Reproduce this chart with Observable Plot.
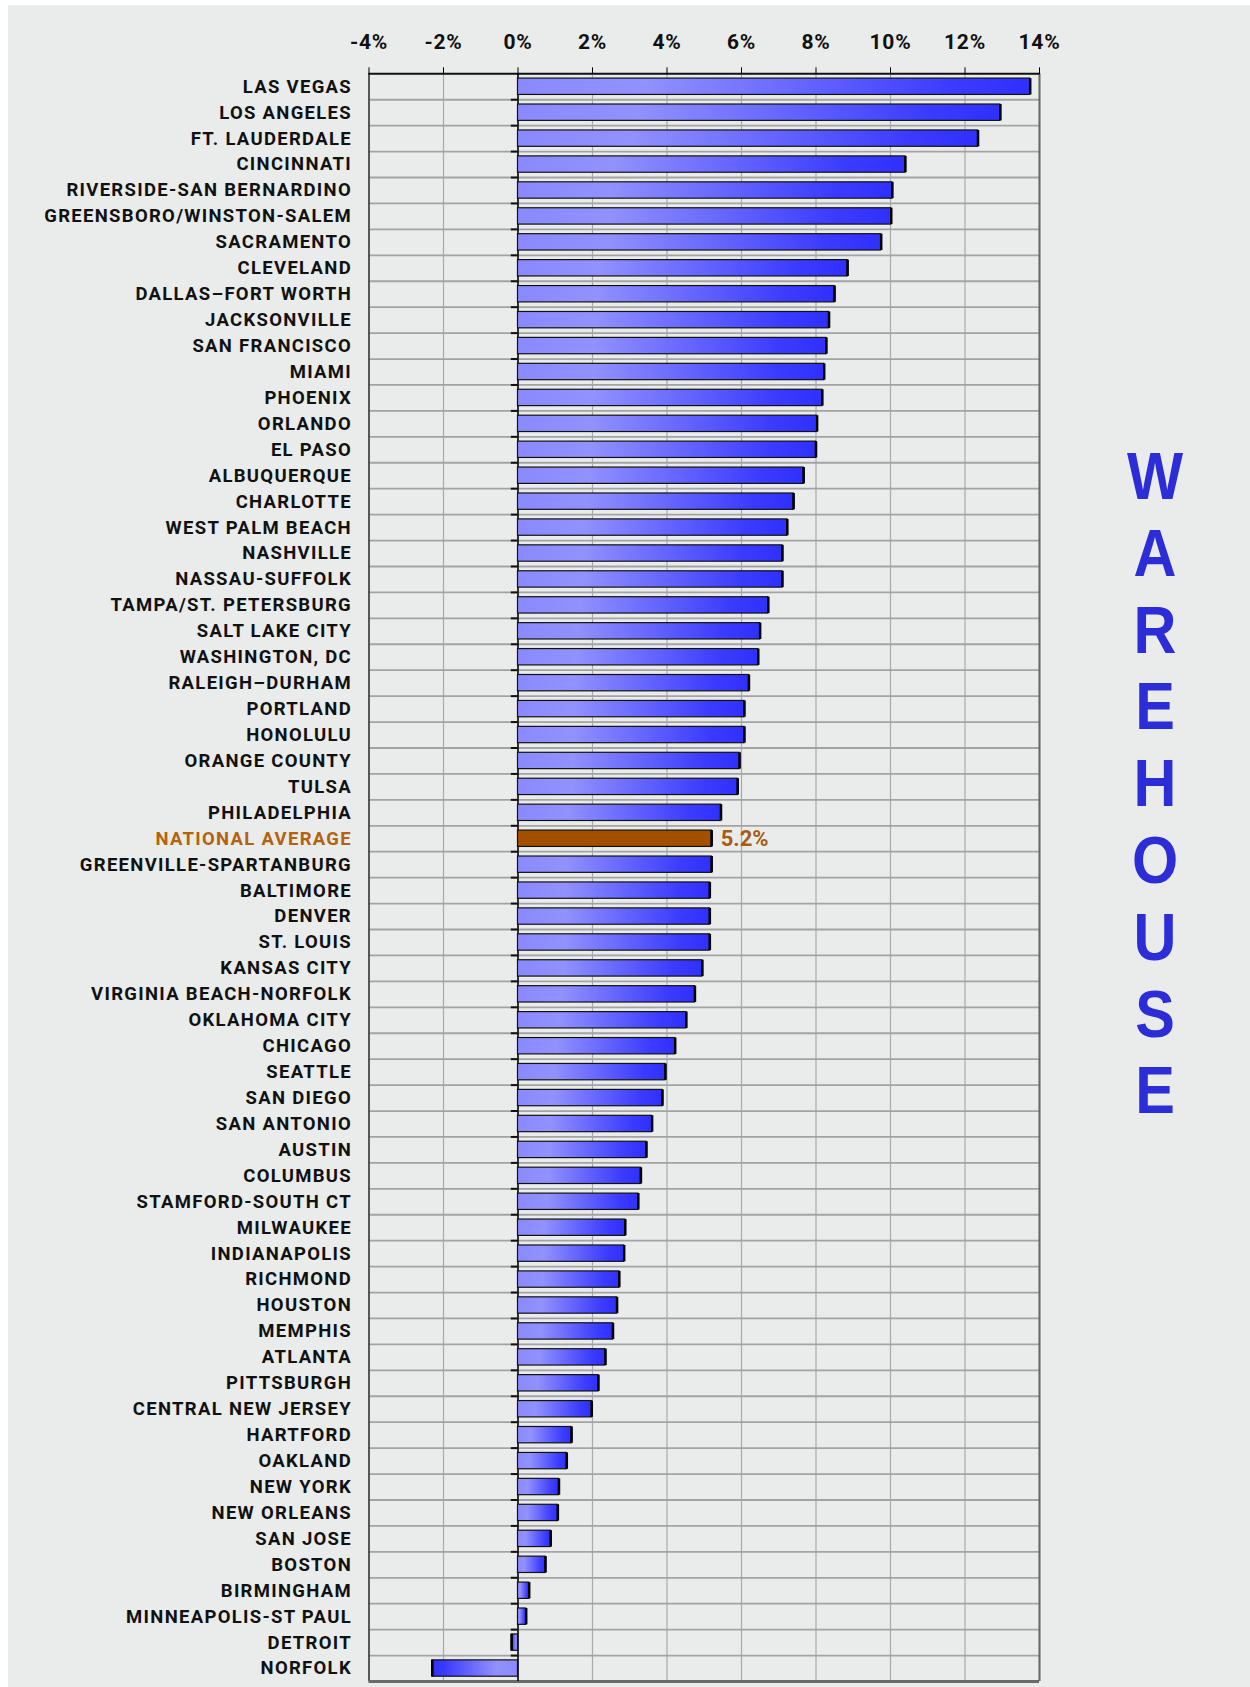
<!DOCTYPE html>
<html><head><meta charset="utf-8">
<script src="https://cdn.jsdelivr.net/npm/d3@7"></script>
<script src="https://cdn.jsdelivr.net/npm/@observablehq/plot@0.6"></script>
<style>
html,body{margin:0;padding:0;background:#fff;}
#page{position:relative;width:1250px;height:1687px;overflow:hidden;}
#panel{position:absolute;left:8px;top:5px;right:0;bottom:0;background:#e9eceb;}
#chart{position:absolute;left:0;top:0;}
#chart svg g[aria-label="y-axis tick label"]{letter-spacing:1.3px;}
#chart svg g[aria-label="x-axis tick label"]{letter-spacing:0.8px;}
#side{position:absolute;left:1105px;width:100px;top:438px;text-align:center;font-family:"Liberation Sans",Arial,sans-serif;font-weight:700;font-size:66px;line-height:76.8px;color:#2d2dd8;transform:scaleX(0.9);transform-origin:50% 0;}
</style></head>
<body>
<svg width="0" height="0" style="position:absolute">
  <defs>
    <linearGradient id="gp" x1="0" x2="1" y1="0" y2="0">
      <stop offset="0" stop-color="#8a8aff"/>
      <stop offset="0.25" stop-color="#9191ff"/>
      <stop offset="0.85" stop-color="#3b3bff"/>
      <stop offset="1" stop-color="#3030ff"/>
    </linearGradient>
    <linearGradient id="gn" x1="1" x2="0" y1="0" y2="0">
      <stop offset="0" stop-color="#8a8aff"/>
      <stop offset="0.25" stop-color="#9191ff"/>
      <stop offset="0.85" stop-color="#3b3bff"/>
      <stop offset="1" stop-color="#3030ff"/>
    </linearGradient>
  </defs>
</svg>
<div id="page">
  <div id="panel"></div>
  <div id="chart"></div>
  <div id="side"></div>
</div>
<script>
// ---- data ----
const sideTitle = "WAREHOUSE";
const averageLabel = "NATIONAL AVERAGE";
const names = [
  "LAS VEGAS","LOS ANGELES","FT. LAUDERDALE","CINCINNATI","RIVERSIDE-SAN BERNARDINO",
  "GREENSBORO/WINSTON-SALEM","SACRAMENTO","CLEVELAND","DALLAS–FORT WORTH","JACKSONVILLE",
  "SAN FRANCISCO","MIAMI","PHOENIX","ORLANDO","EL PASO","ALBUQUERQUE","CHARLOTTE",
  "WEST PALM BEACH","NASHVILLE","NASSAU-SUFFOLK","TAMPA/ST. PETERSBURG","SALT LAKE CITY",
  "WASHINGTON, DC","RALEIGH–DURHAM","PORTLAND","HONOLULU","ORANGE COUNTY","TULSA",
  "PHILADELPHIA","NATIONAL AVERAGE","GREENVILLE-SPARTANBURG","BALTIMORE","DENVER",
  "ST. LOUIS","KANSAS CITY","VIRGINIA BEACH-NORFOLK","OKLAHOMA CITY","CHICAGO","SEATTLE",
  "SAN DIEGO","SAN ANTONIO","AUSTIN","COLUMBUS","STAMFORD-SOUTH CT","MILWAUKEE",
  "INDIANAPOLIS","RICHMOND","HOUSTON","MEMPHIS","ATLANTA","PITTSBURGH",
  "CENTRAL NEW JERSEY","HARTFORD","OAKLAND","NEW YORK","NEW ORLEANS","SAN JOSE","BOSTON",
  "BIRMINGHAM","MINNEAPOLIS-ST PAUL","DETROIT","NORFOLK"
];
const values = [
  13.75,12.95,12.35,10.4,10.05,
  10.02,9.75,8.85,8.5,8.35,
  8.28,8.22,8.17,8.03,8.0,7.67,7.4,
  7.23,7.1,7.1,6.72,6.5,
  6.45,6.2,6.08,6.08,5.95,5.9,
  5.45,5.2,5.2,5.15,5.15,
  5.15,4.95,4.75,4.52,4.22,3.96,
  3.88,3.6,3.45,3.3,3.23,2.88,
  2.85,2.72,2.66,2.55,2.35,2.16,
  1.98,1.44,1.31,1.1,1.07,0.88,0.74,
  0.3,0.22,-0.17,-2.3
];
const xTicks = [-4,-2,0,2,4,6,8,10,12,14];

// ---- layout ----
const W = 1250, H = 1687;
const mT = 73.3, mB = 6, mL = 368.5, mR = 211;
const step = (H - mT - mB) / names.length;

const rows = names.map((name, i) => ({name, v: values[i]}));
const cityRows = rows.filter(d => d.name !== averageLabel);
const avgRows = rows.filter(d => d.name === averageLabel);
const pos = cityRows.filter(d => d.v >= 0);
const neg = cityRows.filter(d => d.v < 0);

const font = "Roboto, 'Noto Sans', sans-serif";

const chart = Plot.plot({
  width: W, height: H,
  marginTop: mT, marginBottom: mB, marginLeft: mL, marginRight: mR,
  style: {background: "transparent", fontFamily: font, overflow: "visible"},
  x: {domain: [-4, 14], ticks: xTicks},
  y: {domain: names, paddingInner: 0.37, paddingOuter: 0.185, label: null},
  marks: [
    Plot.gridX(xTicks, {stroke: "#a9a9a9", strokeOpacity: 1, strokeWidth: 1.2}),
    Plot.ruleY(names, {y: d => d, dy: step / 2, stroke: "#a3a3a3", strokeWidth: 1.8}),
    Plot.ruleY(names, {y: d => d, dy: step / 2, x1: -0.18, x2: 0, stroke: "#111", strokeWidth: 2}),
    Plot.ruleX([-4], {stroke: "#333", strokeWidth: 1.5}),
    Plot.ruleX([14], {stroke: "#666", strokeWidth: 2}),
    Plot.ruleY([names[0]], {y: d => d, dy: -step / 2, stroke: "#111", strokeWidth: 2}),
    Plot.ruleY([names[names.length - 1]], {y: d => d, dy: step / 2, stroke: "#6a6a6a", strokeWidth: 3}),
    Plot.ruleX([0], {stroke: "#000", strokeWidth: 1.5}),
    Plot.barX(pos, {x: "v", y: "name", fill: "url(#gp)", stroke: "#111", strokeWidth: 1.2}),
    Plot.barX(neg, {x: "v", y: "name", fill: "url(#gn)", stroke: "#111", strokeWidth: 1.2}),
    Plot.barX(avgRows, {x: "v", y: "name", fill: "#a34f00", stroke: "#111", strokeWidth: 1.2}),
    Plot.tickX(rows, {x: "v", y: "name", stroke: "#000", strokeWidth: 2.5}),
    Plot.text(avgRows, {x: "v", y: "name", text: d => d.v.toFixed(1) + "%", dx: 9, textAnchor: "start",
      fill: "#a85c12", fontSize: 22, fontWeight: 700}),
    Plot.axisX(xTicks, {anchor: "top", tickSize: 7, tickPadding: 18, tickFormat: d => d + "%",
      fontSize: 21, fontWeight: 700, fill: "#111", stroke: "#000", label: null}),
    Plot.axisY(cityRows.map(d => d.name), {anchor: "left", tickSize: 0, tickPadding: 17,
      fontSize: 18.5, fontWeight: 700, fill: "#111", label: null}),
    Plot.axisY([averageLabel], {anchor: "left", tickSize: 0, tickPadding: 17,
      fontSize: 18.5, fontWeight: 700, fill: "#b5620f", label: null})
  ]
});
document.getElementById("chart").appendChild(chart);

const side = document.getElementById("side");
for (const ch of sideTitle) {
  const d = document.createElement("div");
  d.textContent = ch;
  side.appendChild(d);
}
</script>
</body></html>
